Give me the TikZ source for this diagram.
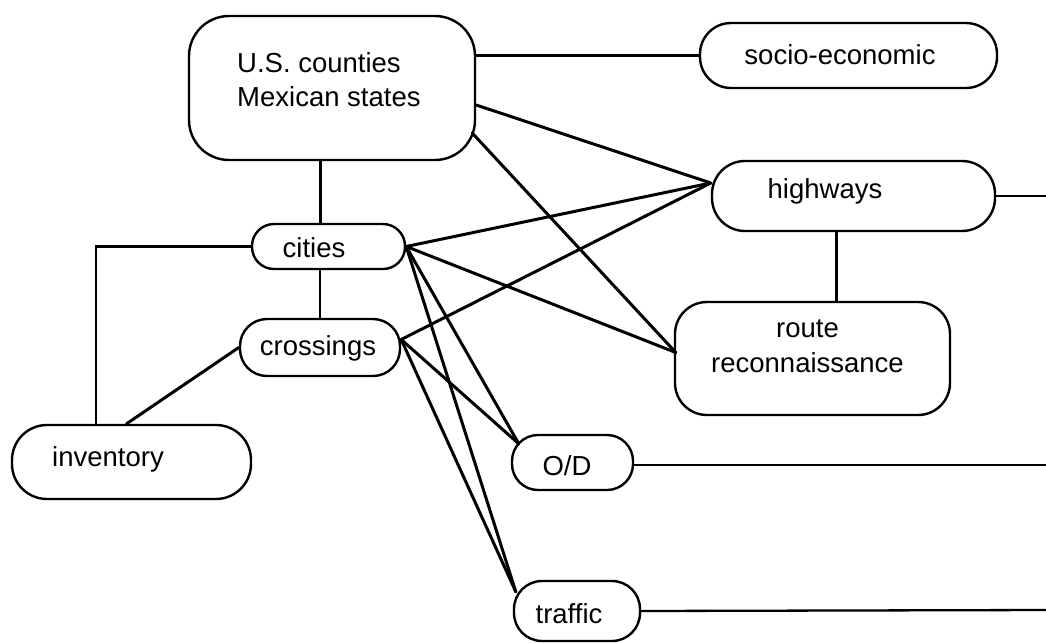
\documentclass[tikz,border=0pt]{standalone}
\usepackage{fontspec}
\setmainfont{Liberation Sans}
\usetikzlibrary{calc}
\begin{document}
\begin{tikzpicture}[x=1pt,y=-1pt,
  box/.style={draw, line width=2.4pt, rounded corners=#1, inner sep=0pt},
  box/.default=30pt,
  lbl/.style={font=\fontsize{27.5}{35}\selectfont, align=center, inner sep=0pt},
  conn/.style={line width=3pt, line cap=round},
  vconn/.style={line width=2.3pt}]
\useasboundingbox (0,0) rectangle (1046,643);
% nodes
\node[box=40pt, minimum width=286pt, minimum height=144pt] (big) at (332,88) {};
\node[lbl, align=left, anchor=west, font=\fontsize{27.5}{34}\selectfont] (bigtext) at (237,80) {U.S. counties\\Mexican states};
\node[box=31pt, minimum width=297pt, minimum height=65pt,
  label={[lbl, xshift=-8.5pt, yshift=1pt]center:socio-economic}] (socio) at (848.5,55.5) {};
\node[box=33pt, minimum width=283pt, minimum height=70pt,
  label={[lbl, xshift=-28.5pt, yshift=5pt]center:highways}] (hw) at (853.5,196) {};
\node[box=32pt, minimum width=275pt, minimum height=113pt,
  label={[lbl, xshift=-5pt, yshift=12pt]center:route\\reconnaissance}] (route) at (812.5,358.5) {};
\node[box=22pt, minimum width=153pt, minimum height=45pt,
  label={[lbl, xshift=-14.5pt, yshift=-1.5pt]center:cities}] (cities) at (328.5,246.5) {};
\node[box=27pt, minimum width=160pt, minimum height=57pt,
  label={[lbl, xshift=-2pt, yshift=-1pt]center:crossings}] (cross) at (320,347.5) {};
\node[box=35pt, minimum width=239pt, minimum height=74pt,
  label={[lbl, xshift=-23.5pt, yshift=3pt]center:inventory}] (inv) at (131.5,462) {};
\node[box=26pt, minimum width=121pt, minimum height=55pt,
  label={[lbl, xshift=-5.5pt, yshift=-3pt]center:O/D}] (od) at (572.5,462.5) {};
\node[box=28pt, minimum width=126pt, minimum height=60pt,
  label={[lbl, xshift=-8pt, yshift=-3pt]center:traffic}] (tr) at (577,611) {};
% anchor points
\coordinate (hwp) at ([yshift=13pt]hw.west);
\coordinate (rtp) at ([xshift=2pt,yshift=6pt]route.west);
\coordinate (odp) at ([xshift=8pt,yshift=-10pt]od.north west);
\coordinate (trp) at ([xshift=3pt,yshift=-12pt]tr.north west);
\coordinate (crp) at ([yshift=8pt]cross.east);
\coordinate (edgeA) at (1046,196);
\coordinate (edgeB) at (1046,465);
\coordinate (edgeC) at (1046,610);
% connectors
\draw[vconn] (big.east |- socio.west) -- (socio.west);
\draw[conn] ([yshift=-17pt]big.east) -- (hwp);
\draw[conn] ([xshift=-4pt,yshift=-45pt]big.east) -- (rtp);
\draw[vconn] ([xshift=-8pt]cities.north) -- ([xshift=-8pt]cities.north |- big.south);
\draw[vconn] (cross.north) -- (cross.north |- cities.south);
\draw[vconn] (cities.west) -| ([xshift=-35.5pt]inv.north);
\draw[conn] (cross.west) -- ([xshift=-5pt]inv.north);
\draw[conn] (cities.east) -- (hwp);
\draw[conn] (cities.east) -- (rtp);
\draw[conn] (cities.east) -- (odp);
\draw[conn] (cities.east) -- (trp);
\draw[conn] (crp) -- (hwp);
\draw[conn] (crp) -- (odp);
\draw[conn] (crp) -- (trp);
\draw[vconn] ([xshift=-17pt]hw.south) -- ([xshift=-17pt]hw.south |- route.north);
\draw[vconn] (hw.east) -- (edgeA);
\draw[vconn] (od.east |- edgeB) -- (edgeB);
\draw[vconn] (tr.east) -- (edgeC);
\end{tikzpicture}
\end{document}
